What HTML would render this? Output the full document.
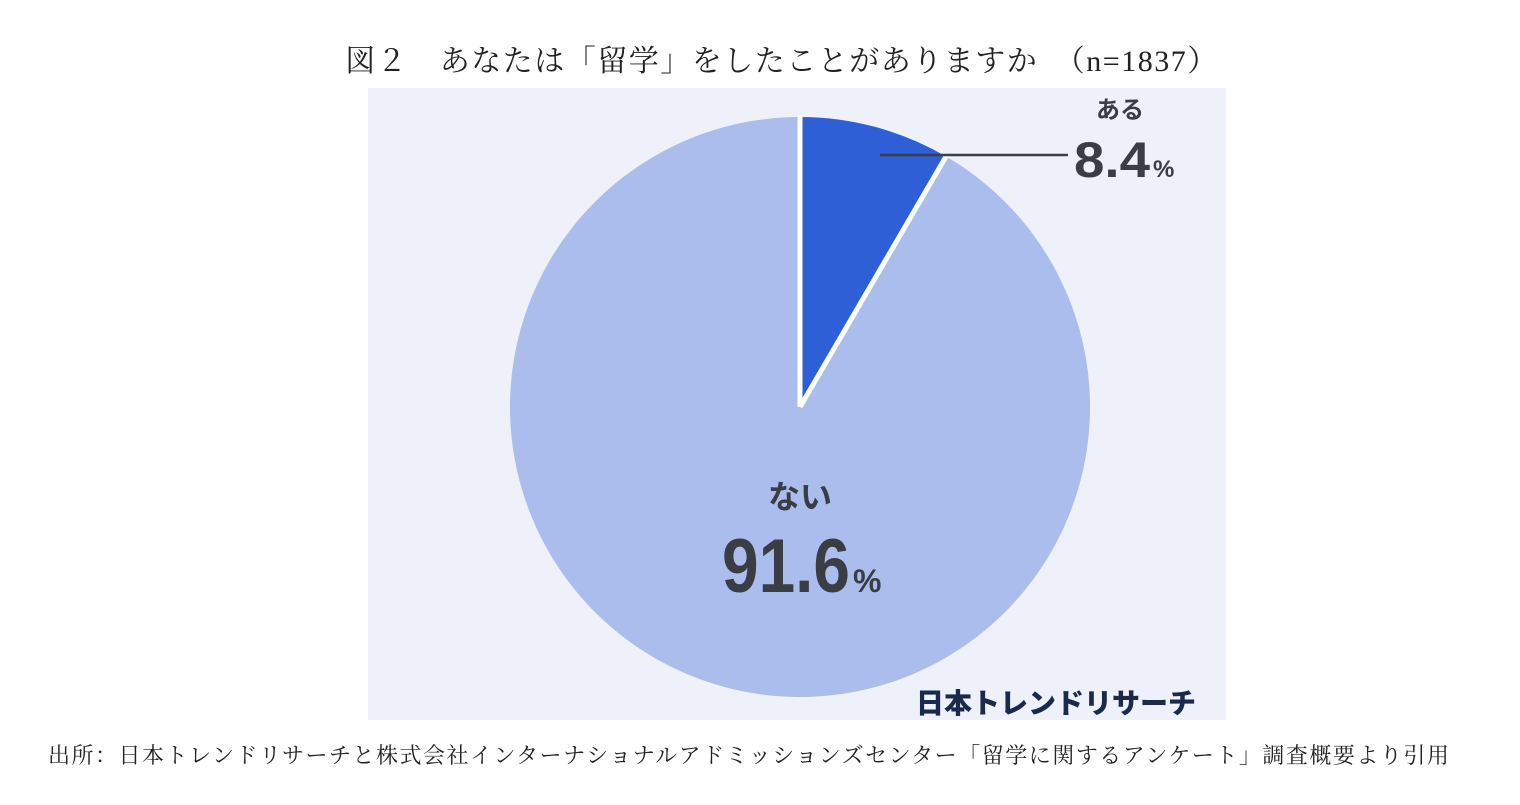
<!DOCTYPE html>
<html><head><meta charset="utf-8"><style>
body{margin:0;width:1520px;height:805px;background:#fff;position:relative;overflow:hidden;font-family:"Liberation Serif","Noto Serif CJK SC",serif;}
#title{position:absolute;left:0;width:1564px;top:36px;text-align:center;font-size:30px;letter-spacing:1.5px;color:#222;white-space:nowrap;}
#src{position:absolute;left:48px;top:739px;font-size:22px;letter-spacing:1.5px;color:#222;white-space:nowrap;}
svg{position:absolute;left:0;top:0;}
</style></head><body>
<div id="title">図２　あなたは「留学」をしたことがありますか　（n=1837）</div>
<svg width="1520" height="805" id="chart">
<rect x="368" y="88" width="858" height="632" fill="#eef1fa"/>
<g id="slices"></g>
<line x1="880" y1="155" x2="1068" y2="155" stroke="#3a3f4a" stroke-width="2.5"/>
<g font-family="'Liberation Sans','Noto Sans CJK JP',sans-serif" fill="#3a3d44" font-weight="bold">
<text x="1120" y="118" font-size="24" text-anchor="middle">ある</text>
<text x="1074" y="177" font-size="50" textLength="76" lengthAdjust="spacingAndGlyphs">8.4</text>
<text x="1153" y="177" font-size="24">%</text>
<text x="800" y="508" font-size="32" text-anchor="middle">ない</text>
<text x="722" y="592" font-size="76" textLength="128" lengthAdjust="spacingAndGlyphs">91.6</text>
<text x="853" y="592" font-size="32">%</text>
<text x="1196" y="713" font-size="28" text-anchor="end" fill="#1b2a4a" font-weight="900">日本トレンドリサーチ</text>
</g>
</svg>
<div id="src">出所：日本トレンドリサーチと株式会社インターナショナルアドミッションズセンター「留学に関するアンケート」調査概要より引用</div>
<script>
const categories=["ある","ない"];
const values=[8.4,91.6];
const colors=["#2f5fd6","#abbdec"];
const cx=800,cy=407,r=290;
const NS='http://www.w3.org/2000/svg';
const g=document.getElementById('slices');
const total=values.reduce((a,b)=>a+b,0);
let a0=0;
const bounds=[];
values.forEach((v,i)=>{
  const a1=a0+v/total*2*Math.PI;
  const x0=cx+r*Math.sin(a0),y0=cy-r*Math.cos(a0);
  const x1=cx+r*Math.sin(a1),y1=cy-r*Math.cos(a1);
  const large=(a1-a0)>Math.PI?1:0;
  const p=document.createElementNS(NS,'path');
  p.setAttribute('d',`M${cx},${cy} L${x0},${y0} A${r},${r} 0 ${large} 1 ${x1},${y1} Z`);
  p.setAttribute('fill',colors[i]);
  
  
  g.appendChild(p);
  bounds.push(a0);
  a0=a1;
});
bounds.forEach(a=>{
  const l=document.createElementNS(NS,'line');
  l.setAttribute('x1',cx);l.setAttribute('y1',cy);
  l.setAttribute('x2',cx+(r+2)*Math.sin(a));l.setAttribute('y2',cy-(r+2)*Math.cos(a));
  l.setAttribute('stroke','#fff');l.setAttribute('stroke-width','5');
  
  
  g.appendChild(l);
});
</script>
</body></html>
